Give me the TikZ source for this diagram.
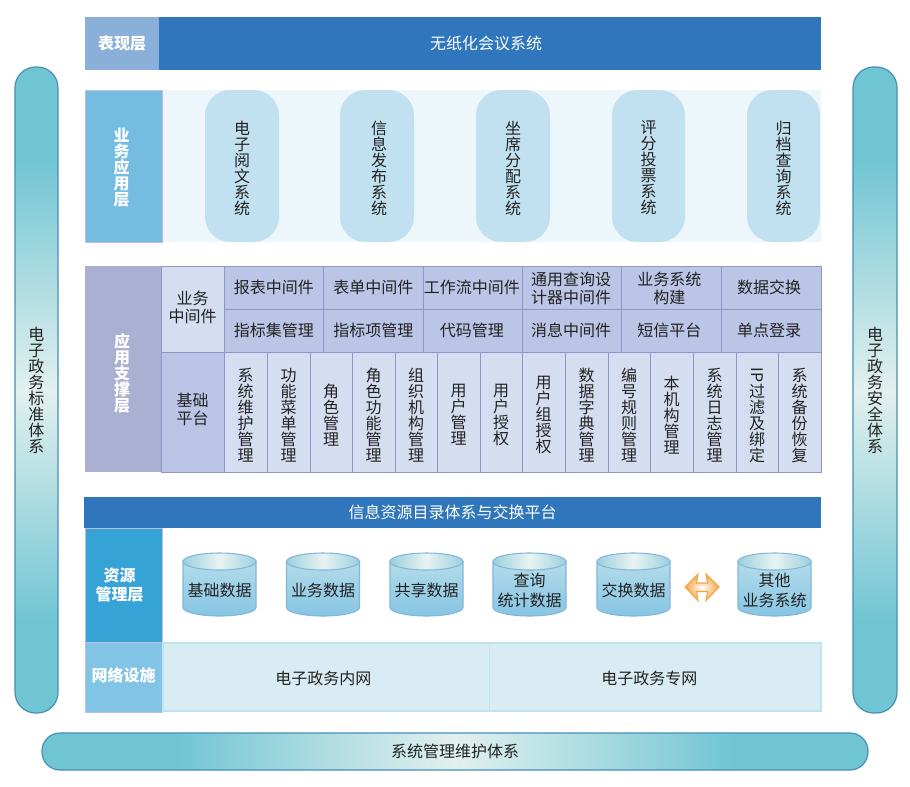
\documentclass[tikz,border=0pt]{standalone}
\usepackage{fontspec}
\setmainfont{Noto Sans CJK SC}
\usetikzlibrary{shapes.geometric}

\definecolor{ink}{HTML}{222222}
\definecolor{paper}{HTML}{EDF6FB}
\definecolor{royal}{HTML}{2F76BC}
\definecolor{slate}{HTML}{8AAFD8}
\definecolor{bizblue}{HTML}{74BDE0}
\definecolor{supportblue}{HTML}{ABB0D3}
\definecolor{resblue}{HTML}{36A3D6}
\definecolor{netblue}{HTML}{82C4E5}
\definecolor{bandteal}{HTML}{70C5D3}
\definecolor{bandpale}{HTML}{E2F0EE}
\definecolor{edge}{HTML}{458FB9}
\definecolor{cellLight}{HTML}{D4DEF0}
\definecolor{cellDark}{HTML}{BBC5E5}
\definecolor{cellEdge}{HTML}{8F97C9}
\definecolor{softEdge}{HTML}{BDBEDD}
\definecolor{pill}{HTML}{C1E1F0}
\definecolor{netFill}{HTML}{D9ECF4}
\definecolor{netEdge}{HTML}{BFE3EF}
\definecolor{drumEdge}{HTML}{84B6D9}
\definecolor{drumTop}{HTML}{B4DCEA}
\definecolor{drumLow}{HTML}{86C5E4}
\definecolor{drumRim}{HTML}{9CD0DE}
\definecolor{drumGlow}{HTML}{E8F3F2}
\definecolor{amber}{HTML}{F5A544}

% Side and bottom bands: solid teal at both ends, pale in the middle
\pgfdeclareverticalshading{bandV}{100bp}{color(0bp)=(bandteal);color(32bp)=(bandteal);color(50bp)=(bandpale);color(68bp)=(bandteal);color(100bp)=(bandteal)}
\pgfdeclarehorizontalshading{bandH}{100bp}{color(0bp)=(bandteal);color(33bp)=(bandteal);color(50bp)=(bandpale);color(67bp)=(bandteal);color(100bp)=(bandteal)}

\tikzset{
  x=0.75pt, y=-0.75pt,
  plain/.style={rectangle, inner sep=0pt, outer sep=0pt},
  txt/.style={inner sep=0pt, outer sep=0pt, align=center, text=ink, font=\fontsize{12}{12}\selectfont},
  wtxt/.style={txt, text=white},
  btxt/.style={txt, text=white, font=\fontsize{12}{12}\bfseries\selectfont},
  two/.style={font=\fontsize{12}{13.6}\selectfont},
  tall/.style={font=\fontsize{12}{15}\selectfont},
  btwo/.style={font=\fontsize{12}{14.2}\bfseries\selectfont},
  light/.style={fill=cellLight, draw=cellEdge, line width=0.6pt},
  dark/.style={fill=cellDark, draw=cellEdge, line width=0.6pt},
  capsule/.style={fill=pill, rounded corners=19pt},
  netbox/.style={fill=netFill, draw=netEdge, line width=0.8pt},
  bandv/.style={shading=bandV, draw=edge, line width=0.9pt, rounded corners=15.5pt},
  bandh/.style={shading=bandH, draw=edge, line width=0.9pt, rounded corners=13.5pt},
}

% box: name, x1, y1, x2, y2, box style; \celltext then reads text style, offsets and text
\newcommand\cellbox[6]{%
  \pgfmathsetmacro\bw{(#4-#2)*0.75}%
  \pgfmathsetmacro\bh{(#5-#3)*0.75}%
  \node[plain, #6, minimum width=\bw pt, minimum height=\bh pt] (#1) at ({(#2+#4)/2},{(#3+#5)/2}) {};
  \def\cellname{#1}\celltext}
\newcommand\celltext[4]{\node[#1] (\cellname-text) at ([shift={(#2,#3)}]\cellname.center) {#4};}

% drum: name, left x, text
\newcommand\drum[3]{%
  \path[draw=drumEdge, line width=0.8pt, top color=drumTop, bottom color=drumLow]
    (#2,561.5) -- (#2,607.5)
    .. controls (#2,612.2) and ({#2+16.4},616) .. ({#2+36.5},616)
    .. controls ({#2+56.6},616) and ({#2+73},612.2) .. ({#2+73},607.5)
    -- ({#2+73},561.5) -- cycle;
  \node[ellipse, draw=drumEdge, line width=0.8pt, inner sep=0pt, outer sep=0pt,
        minimum width=54.75pt, minimum height=12.75pt,
        left color=drumRim, right color=drumRim, middle color=drumGlow]
    (#1-top) at ({#2+36.5},561.5) {};
  \node[txt, tall] (#1) at ({#2+36.5},590) {#3};}

\begin{document}
\begin{tikzpicture}
\useasboundingbox[fill=white] (0,0) rectangle (910,786);

% Presentation layer
\cellbox{showlabel}{85}{17}{159}{70}{fill=slate}{btxt}{0}{0}{表现层}
\cellbox{showbar}{159}{17}{821}{70}{fill=royal}{wtxt}{-4}{0}{无纸化会议系统}

% Business application layer
\cellbox{bizback}{162}{90}{821}{242}{fill=paper}{txt}{0}{0}{}
\cellbox{bizlabel}{85}{90}{162}{242}{fill=bizblue, draw=softEdge, line width=0.5pt}{btxt}{-2}{2}{业\\务\\应\\用\\层}
\cellbox{app1}{205}{90}{279}{242}{capsule}{txt}{0}{2}{电\\子\\阅\\文\\系\\统}
\cellbox{app2}{340}{90}{414}{242}{capsule}{txt}{2}{2}{信\\息\\发\\布\\系\\统}
\cellbox{app3}{476}{90}{550}{242}{capsule}{txt}{0}{2}{坐\\席\\分\\配\\系\\统}
\cellbox{app4}{612}{90}{685}{242}{capsule}{txt}{0}{2}{评\\分\\投\\票\\系\\统}
\cellbox{app5}{747}{90}{820}{242}{capsule}{txt}{0}{2}{归\\档\\查\\询\\系\\统}

% Application support layer
\cellbox{supportlabel}{85}{266}{161}{472}{fill=supportblue}{btxt}{-1}{4}{应\\用\\支\\撑\\层}
\cellbox{midlabel}{161}{266}{224}{352}{light}{txt, two}{0}{-2}{业务\\中间件}
\cellbox{baselabel}{161}{352}{224}{472}{dark}{txt, two}{0}{-3}{基础\\平台}

\cellbox{m11}{224}{266}{323.5}{309}{dark}{txt}{0}{0}{报表中间件}
\cellbox{m12}{323.5}{266}{423}{309}{dark}{txt}{0}{0}{表单中间件}
\cellbox{m13}{423}{266}{522.5}{309}{dark}{txt}{-1}{0}{工作流中间件}
\cellbox{m14}{522.5}{266}{621.5}{309}{dark}{txt, two}{-1}{1}{通用查询设\\计器中间件}
\cellbox{m15}{621.5}{266}{721}{309}{dark}{txt, two}{-2}{1}{业务系统\\构建}
\cellbox{m16}{721}{266}{821}{309}{dark}{txt}{-2}{0}{数据交换}
\cellbox{m21}{224}{309}{323.5}{352}{dark}{txt}{0}{0}{指标集管理}
\cellbox{m22}{323.5}{309}{423}{352}{dark}{txt}{0}{0}{指标项管理}
\cellbox{m23}{423}{309}{522.5}{352}{dark}{txt}{-1}{0}{代码管理}
\cellbox{m24}{522.5}{309}{621.5}{352}{dark}{txt}{-1}{0}{消息中间件}
\cellbox{m25}{621.5}{309}{721}{352}{dark}{txt}{-2}{0}{短信平台}
\cellbox{m26}{721}{309}{821}{352}{dark}{txt}{-2}{0}{单点登录}

\cellbox{b01}{224}{352}{267}{472}{light}{txt}{0}{3}{系\\统\\维\\护\\管\\理}
\cellbox{b02}{267}{352}{310}{472}{light}{txt}{0}{3}{功\\能\\菜\\单\\管\\理}
\cellbox{b03}{310}{352}{352}{472}{light}{txt}{0}{3}{角\\色\\管\\理}
\cellbox{b04}{352}{352}{395}{472}{light}{txt}{0}{3}{角\\色\\功\\能\\管\\理}
\cellbox{b05}{395}{352}{437}{472}{light}{txt}{0}{3}{组\\织\\机\\构\\管\\理}
\cellbox{b06}{437}{352}{480}{472}{light}{txt}{0}{3}{用\\户\\管\\理}
\cellbox{b07}{480}{352}{522}{472}{light}{txt}{0}{3}{用\\户\\授\\权}
\cellbox{b08}{522}{352}{565}{472}{light}{txt}{0}{3}{用\\户\\组\\授\\权}
\cellbox{b09}{565}{352}{608}{472}{light}{txt}{0}{3}{数\\据\\字\\典\\管\\理}
\cellbox{b10}{608}{352}{650}{472}{light}{txt}{0}{3}{编\\号\\规\\则\\管\\理}
\cellbox{b11}{650}{352}{693}{472}{light}{txt}{0}{3}{本\\机\\构\\管\\理}
\cellbox{b12}{693}{352}{736}{472}{light}{txt}{0}{3}{系\\统\\日\\志\\管\\理}
\cellbox{b13}{736}{352}{778}{472}{light}{txt}{0}{3}{\rotatebox{-90}{IP}\\过\\滤\\及\\绑\\定}
\cellbox{b14}{778}{352}{821}{472}{light}{txt}{0}{3}{系\\统\\备\\份\\恢\\复}

% Resource directory and exchange platform
\cellbox{dirbar}{84}{497}{821}{528}{fill=royal}{wtxt}{0}{0}{信息资源目录体系与交换平台}

% Resource management layer
\cellbox{reslabel}{85}{528}{162}{642}{fill=resblue, draw=softEdge, line width=0.4pt}{btxt, btwo}{-4}{0}{资源\\管理层}
\drum{d1}{183}{基础数据}
\drum{d2}{286.5}{业务数据}
\drum{d3}{390}{共享数据}
\drum{d4}{493}{查询\\统计数据}
\drum{d5}{597}{交换数据}
\drum{d6}{738}{其他\\业务系统}

% Two-way exchange arrow between the drums
\path[draw=amber, line width=0.8pt, inner color=white, outer color=amber]
  (685,587) -- (698,574) -- (696.5,583) -- (707.5,583) -- (706,574) -- (719,587)
  -- (706,600.5) -- (707.5,591.5) -- (696.5,591.5) -- (698,600.5) -- cycle;

% Network infrastructure
\cellbox{netlabel}{85}{642}{162}{712}{fill=netblue, draw=softEdge, line width=0.5pt}{btxt}{0}{-2}{网络设施}
\cellbox{net1}{163}{643}{489.5}{711}{netbox}{txt}{-3}{1}{电子政务内网}
\cellbox{net2}{489.5}{643}{821}{711}{netbox}{txt}{-6}{1}{电子政务专网}

% Cross-cutting systems
\cellbox{stdband}{15}{67}{58}{713}{bandv}{txt}{0}{0}{电\\子\\政\\务\\标\\准\\体\\系}
\cellbox{secband}{853}{67}{897}{713}{bandv}{txt}{0}{0}{电\\子\\政\\务\\安\\全\\体\\系}
\cellbox{mgmtband}{42}{733}{868}{770}{bandh}{txt}{0}{0}{系统管理维护体系}
\end{tikzpicture}
\end{document}
